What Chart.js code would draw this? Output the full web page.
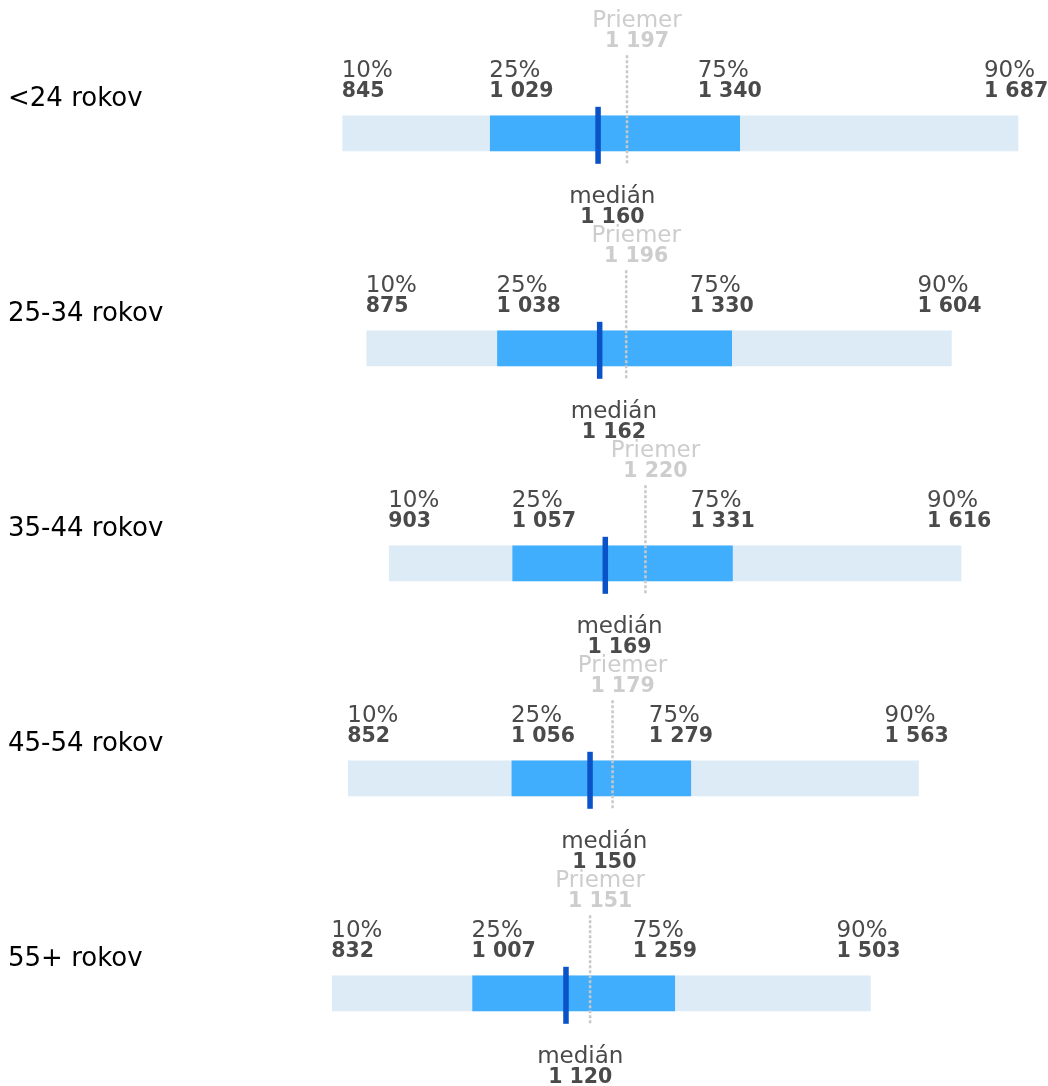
<!DOCTYPE html>
<html>
<head>
<meta charset="utf-8">
<script src="https://cdn.jsdelivr.net/npm/chart.js@4"></script>
<style>
    body { margin: 0; background: #fff; }
    #wrap { width: 1048px; height: 1086px; }
</style>
</head>
<body>
<div id="wrap"><canvas id="mzdy-chart" width="1048" height="1086"></canvas></div>
<script>
const categories = ['<24 rokov', '25-34 rokov', '35-44 rokov', '45-54 rokov', '55+ rokov'];
const p10 = [845, 875, 903, 852, 832];
const p25 = [1029, 1038, 1057, 1056, 1007];
const median = [1160, 1162, 1169, 1150, 1120];
const p75 = [1340, 1330, 1331, 1279, 1259];
const p90 = [1687, 1604, 1616, 1563, 1503];
const mean = [1197, 1196, 1220, 1179, 1151];

const FONT = 'DejaVu Sans';
const labelColor = '#4a4a4a';
const meanColor = '#cdcdcd';

function formatNum(v) {
    return v.toString().replace(/\B(?=(\d{3})+(?!\d))/g, ' ');
}

function drawPair(ctx, label, value, x, yLabel, align, color) {
    ctx.textAlign = align;
    ctx.textBaseline = 'alphabetic';
    ctx.fillStyle = color;
    ctx.font = `23px "${FONT}"`;
    ctx.fillText(label, x, yLabel);
    ctx.font = `bold 20.5px "${FONT}"`;
    ctx.fillText(formatNum(value), x, yLabel + 20);
}

const markersPlugin = {
    id: 'markers',
    afterDatasetsDraw(chart) {
        const { ctx, scales: { x, y } } = chart;
        ctx.save();
        categories.forEach((cat, i) => {
            const yc = y.getPixelForValue(i);

            // priemer - bodkovana ciara
            const meanX = x.getPixelForValue(mean[i]) + 2;
            ctx.strokeStyle = '#c8c8c8';
            ctx.lineWidth = 2.5;
            ctx.setLineDash([3, 2]);
            ctx.beginPath();
            ctx.moveTo(meanX, yc - 78);
            ctx.lineTo(meanX, yc + 32);
            ctx.stroke();
            ctx.setLineDash([]);

            // median
            const medX = x.getPixelForValue(median[i]);
            ctx.fillStyle = '#0a52c8';
            ctx.fillRect(medX, yc - 26.5, 5.5, 57);

            // popisky percentilov
            drawPair(ctx, '10%', p10[i], x.getPixelForValue(p10[i]) - 1, yc - 56, 'left', labelColor);
            drawPair(ctx, '25%', p25[i], x.getPixelForValue(p25[i]) - 1, yc - 56, 'left', labelColor);
            drawPair(ctx, '75%', p75[i], x.getPixelForValue(p75[i]) - 42, yc - 56, 'left', labelColor);
            drawPair(ctx, '90%', p90[i], x.getPixelForValue(p90[i]) - 34, yc - 56, 'left', labelColor);

            drawPair(ctx, 'Priemer', mean[i], x.getPixelForValue(mean[i]) + 12, yc - 106.5, 'center', meanColor);
            drawPair(ctx, 'medián', median[i], x.getPixelForValue(median[i]) + 17, yc + 69.5, 'center', labelColor);
        });
        ctx.restore();
    }
};

const ctx = document.getElementById('mzdy-chart').getContext('2d');

new Chart(ctx, {
    type: 'bar',
    data: {
        labels: categories,
        datasets: [
            {
                label: '25% - 75%',
                data: categories.map((c, i) => [p25[i], p75[i]]),
                backgroundColor: '#40aefd',
                barThickness: 35,
                grouped: false,
                clip: false,
                order: 1
            },
            {
                label: '10% - 90%',
                data: categories.map((c, i) => [p10[i], p90[i]]),
                backgroundColor: '#dcebf6',
                barThickness: 35,
                grouped: false,
                clip: false,
                order: 2
            }
        ]
    },
    options: {
        indexAxis: 'y',
        responsive: false,
        animation: false,
        devicePixelRatio: 1,
        layout: {
            padding: { left: 8, right: 19.6, top: 133.3, bottom: 92.7 }
        },
        scales: {
            x: {
                display: false,
                min: 800,
                max: 1700
            },
            y: {
                offset: false,
                grid: { display: false },
                border: { display: false },
                afterFit(scale) {
                    scale.width = 298.6;
                },
                ticks: {
                    crossAlign: 'far',
                    padding: 0,
                    labelOffset: -34,
                    color: '#000',
                    font: { family: FONT, size: 26 }
                }
            }
        },
        plugins: {
            legend: { display: false },
            tooltip: { enabled: false }
        }
    },
    plugins: [markersPlugin]
});
</script>
</body>
</html>
